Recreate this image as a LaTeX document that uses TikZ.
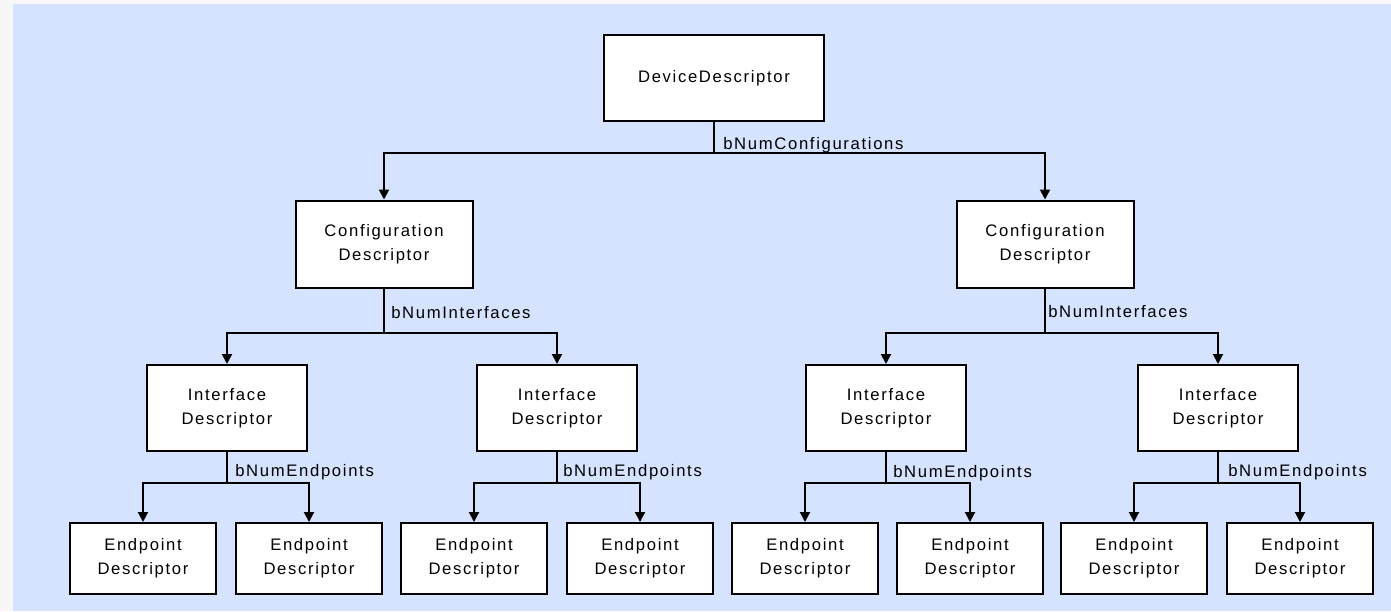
\documentclass[tikz,border=0pt]{standalone}
\usepackage{fontspec}
\newfontfamily\boxfont[LetterSpace=10]{Liberation Sans}
\usetikzlibrary{arrows.meta}
\definecolor{pagegray}{HTML}{F7F7F7}
\definecolor{panelblue}{HTML}{D5E3FF}

\begin{document}
\begin{tikzpicture}[x=0.75pt,y=-0.75pt,>={Triangle[width=7.5pt,length=7.5pt]},font=\boxfont\fontsize{12.5}{18}\selectfont]
  \tikzstyle{box}=[draw,fill=white,line width=1.5pt,align=center,inner sep=0pt]
  \tikzstyle{devbox}=[box,minimum width=165pt,minimum height=64.5pt]
  \tikzstyle{cfgbox}=[box,minimum width=132.75pt,minimum height=65.25pt]
  \tikzstyle{ifbox}=[box,minimum width=120pt,minimum height=64.5pt]
  \tikzstyle{epbox}=[box,minimum width=110pt,minimum height=53.25pt]
  \tikzstyle{lbl}=[anchor=base west,inner sep=0pt]
  \tikzstyle{link}=[line width=1.5pt,->]
  % background
  \fill[pagegray] (0,0) rectangle (1391,611);
  \fill[panelblue] (13,4) rectangle (1391,611);
  % descriptors
  \node[devbox] (dev) at (714,78) {DeviceDescriptor};
  \node[cfgbox] (cfgA) at (384,244) {Configuration\\Descriptor};
  \node[cfgbox] (cfgB) at (1045,244) {Configuration\\Descriptor};
  \node[ifbox] (ifA) at (227,408) {Interface\\Descriptor};
  \node[ifbox] (ifB) at (557,408) {Interface\\Descriptor};
  \node[ifbox] (ifC) at (886,408) {Interface\\Descriptor};
  \node[ifbox] (ifD) at (1218,408) {Interface\\Descriptor};
  \node[epbox] (epA1) at (143,558.5) {Endpoint\\Descriptor};
  \node[epbox] (epA2) at (309,558.5) {Endpoint\\Descriptor};
  \node[epbox] (epB1) at (474,558.5) {Endpoint\\Descriptor};
  \node[epbox] (epB2) at (640,558.5) {Endpoint\\Descriptor};
  \node[epbox] (epC1) at (805,558.5) {Endpoint\\Descriptor};
  \node[epbox] (epC2) at (970,558.5) {Endpoint\\Descriptor};
  \node[epbox] (epD1) at (1134,558.5) {Endpoint\\Descriptor};
  \node[epbox] (epD2) at (1300,558.5) {Endpoint\\Descriptor};
  % branch points
  \coordinate (jdev) at (714,153);
  \coordinate (jcfgA) at (384,333);
  \coordinate (jcfgB) at (1045,333);
  \coordinate (jifA) at (227,483);
  \coordinate (jifB) at (557,483);
  \coordinate (jifC) at (886,483);
  \coordinate (jifD) at (1218,483);
  % connectors
  \draw[link] (dev) -- (jdev) -| (cfgA);
  \draw[link] (jdev) -| (cfgB);
  \draw[link] (cfgA) -- (jcfgA) -| (ifA);
  \draw[link] (jcfgA) -| (ifB);
  \draw[link] (cfgB) -- (jcfgB) -| (ifC);
  \draw[link] (jcfgB) -| (ifD);
  \draw[link] (ifA) -- (jifA) -| (epA1);
  \draw[link] (jifA) -| (epA2);
  \draw[link] (ifB) -- (jifB) -| (epB1);
  \draw[link] (jifB) -| (epB2);
  \draw[link] (ifC) -- (jifC) -| (epC1);
  \draw[link] (jifC) -| (epC2);
  \draw[link] (ifD) -- (jifD) -| (epD1);
  \draw[link] (jifD) -| (epD2);
  % counts
  \node[lbl] (nconf) at (723,149) {bNumConfigurations};
  \node[lbl] (nifA) at (391,318) {bNumInterfaces};
  \node[lbl] (nifB) at (1048,317) {bNumInterfaces};
  \node[lbl] (nepA) at (235,476) {bNumEndpoints};
  \node[lbl] (nepB) at (563,476) {bNumEndpoints};
  \node[lbl] (nepC) at (893,477) {bNumEndpoints};
  \node[lbl] (nepD) at (1228,476) {bNumEndpoints};
\end{tikzpicture}
\end{document}
